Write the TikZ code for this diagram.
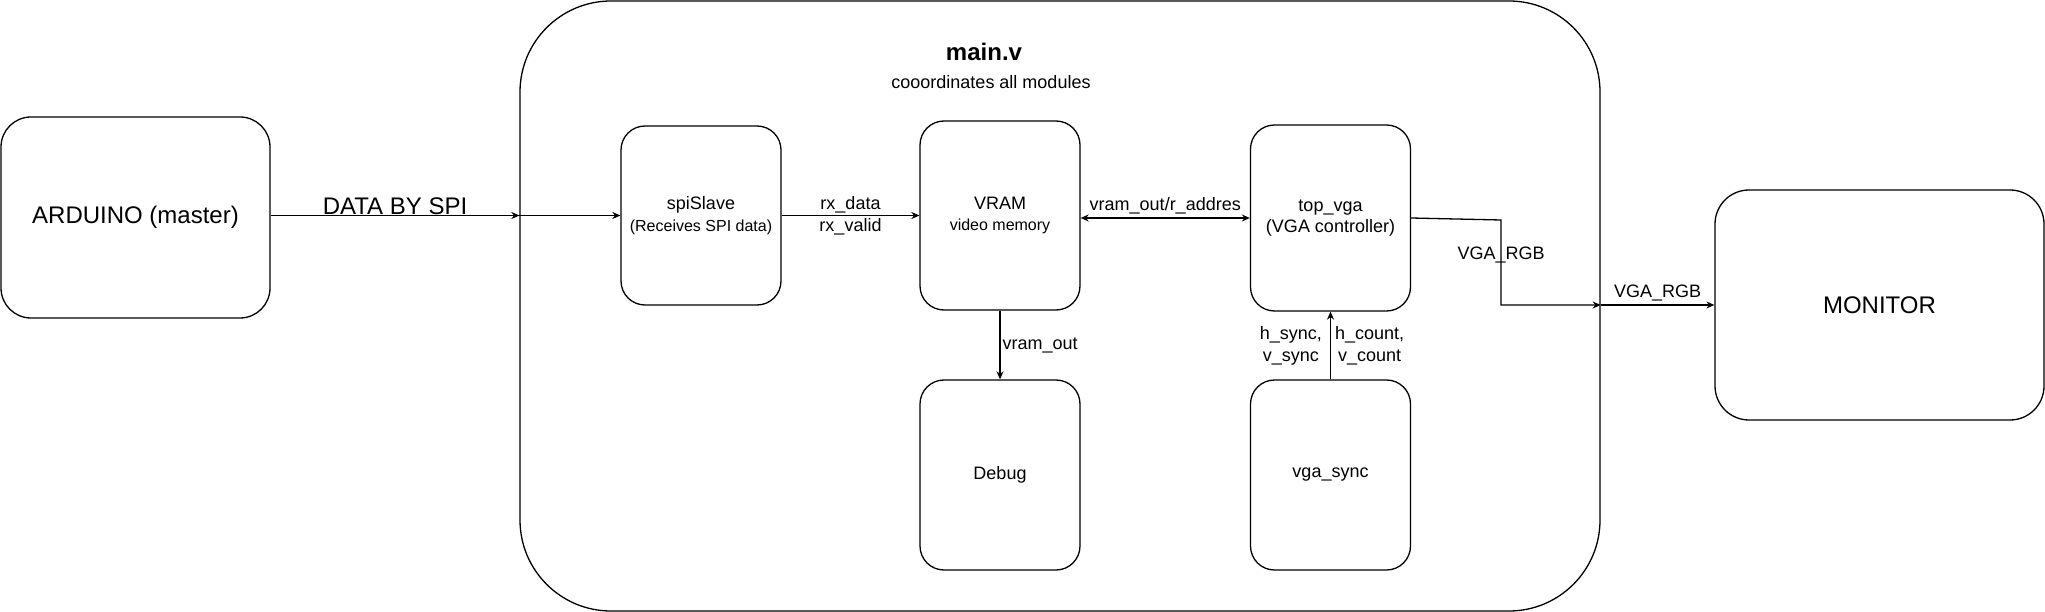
\documentclass[tikz,border=0pt]{standalone}
\usepackage{fontspec}
\setmainfont{Liberation Sans}
\usepackage{tikz}
\usetikzlibrary{arrows.meta}

\begin{document}
\begin{tikzpicture}[x=1pt,y=-1pt,line width=1.3pt,>={Stealth[length=8pt,width=7pt]},
	block/.style={rectangle,draw,align=center,minimum width=160pt,rounded corners=24pt,font=\fontsize{18}{21.7}\selectfont},
	big/.style={rectangle,draw,align=center,font=\fontsize{24}{29}\selectfont},
	lbl/.style={font=\fontsize{18}{21.7}\selectfont,align=center},
	]
	\useasboundingbox (0,0) rectangle (2045,612);
	\node[big,minimum width=1080pt,minimum height=610pt,rounded corners=91pt] (main) at (1060,306) {};
	\node[font=\bfseries\fontsize{24}{29}\selectfont] (mainv) at (984,52) {main.v};
	\node[lbl] (maindesc) at (991,82) {cooordinates all modules};
	\node[big,minimum width=269pt,minimum height=201pt,rounded corners=30pt] (arduino) at (135.5,217.5) {ARDUINO (master)};
	\node[big,minimum width=329pt,minimum height=230pt,rounded corners=34pt] (monitor) at (1879.5,305) {MONITOR};
	\node[block,minimum height=179pt] (spislave) at (701,215.5) {spiSlave\\{\fontsize{16}{21.7}\selectfont (Receives SPI data)}};
	\node[block,minimum height=189pt] (vram) at (1000,215.5) {VRAM\\{\fontsize{16}{21.7}\selectfont video memory}};
	\node[block,minimum height=186pt] (topvga) at (1330.5,218) {top\_vga\\(VGA controller)};
	\node[block,minimum height=190pt] (debug) at (1000,475) {Debug};
	\node[block,minimum height=190pt] (vgasync) at (1330.5,475) {vga\_sync};
	\coordinate (rgbtop) at (1501,220);
	\coordinate (rgbbot) at (1501,305);

	\draw[->] (arduino.east |- spislave.west) -- node[above,inner sep=0.5pt,font=\fontsize{24}{29}\selectfont] {DATA BY SPI} (spislave.west -| main.west);
	\draw[->] (spislave.west -| main.west) -- (spislave.west);
	\draw[->] (spislave.east) -- node[lbl] {rx\_data\\rx\_valid} (vram.west);
	\draw[<->] (vram.east |- topvga.west) -- node[lbl,above,inner sep=3pt] {vram\_out/r\_addres} (topvga.west);
	\draw[->] (vram.south) -- node[lbl,right,inner sep=2pt] {vram\_out} (debug.north);
	\draw[->] (vgasync.north) -- node[lbl,left,inner sep=8pt] {h\_sync,\\v\_sync} node[lbl,right,inner sep=4pt] {h\_count,\\v\_count} (topvga.south);
	\draw[->] (topvga.east) -- (rgbtop) -- node[lbl,pos=0.41] {VGA\_RGB} (rgbbot) -- (rgbbot -| main.east);
	\draw[->] (rgbbot -| main.east) -- node[lbl,above] {VGA\_RGB} (monitor.west);
\end{tikzpicture}
\end{document}
